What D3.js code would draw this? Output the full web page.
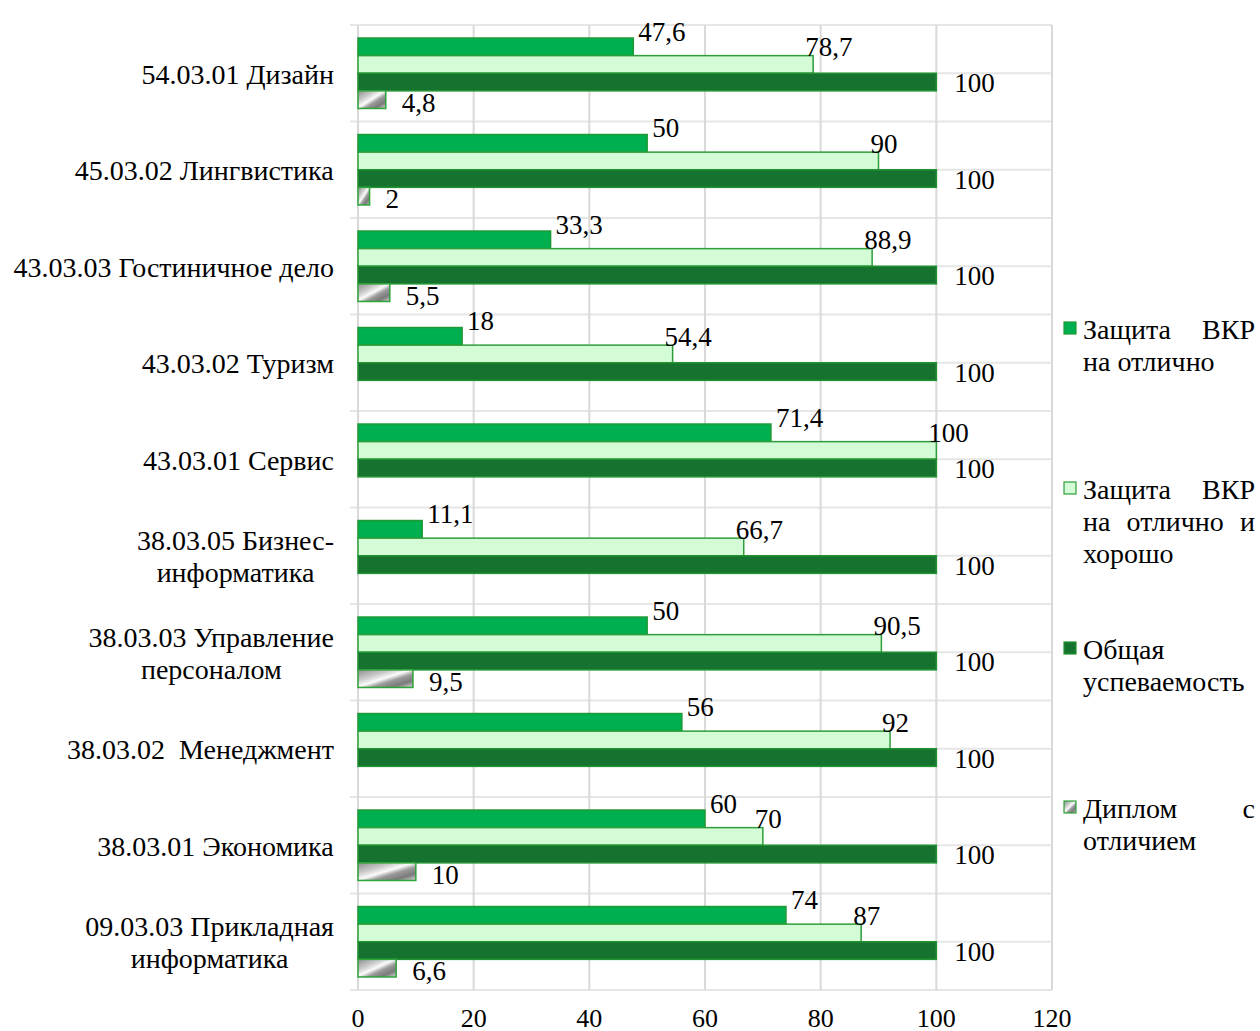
<!DOCTYPE html>
<html><head><meta charset="utf-8">
<script src="https://cdn.jsdelivr.net/npm/d3@7"></script>
<style>
body{margin:0;background:#fff;}
svg text{font-family:"Liberation Serif","DejaVu Serif","Times New Roman",serif;fill:#000;}
</style></head>
<body><svg id="c" width="1260" height="1031" font-family="Liberation Serif, DejaVu Serif, serif"></svg>
<script>
const categories = [
  ["54.03.01 Дизайн"],
  ["45.03.02 Лингвистика"],
  ["43.03.03 Гостиничное дело"],
  ["43.03.02 Туризм"],
  ["43.03.01 Сервис"],
  ["38.03.05 Бизнес-", "информатика"],
  ["38.03.03 Управление", "персоналом"],
  ["38.03.02  Менеджмент"],
  ["38.03.01 Экономика"],
  ["09.03.03 Прикладная", "информатика"]
];
const seriesNames = ["Защита ВКР на отлично", "Защита ВКР на отлично и хорошо", "Общая успеваемость", "Диплом с отличием"];
const excellent = [47.6, 50, 33.3, 18, 71.4, 11.1, 50, 56, 60, 74];
const excellentGood = [78.7, 90, 88.9, 54.4, 100, 66.7, 90.5, 92, 70, 87];
const overall = [100, 100, 100, 100, 100, 100, 100, 100, 100, 100];
const honours = [4.8, 2, 5.5, null, null, null, 9.5, null, 10, 6.6];
const xTicks = [0, 20, 40, 60, 80, 100, 120];
const legendLines = [
  [["Защита", "ВКР"], ["на", "отлично"]],
  [["Защита", "ВКР"], ["на", "отлично", "и"], ["хорошо"]],
  [["Общая"], ["успеваемость"]],
  [["Диплом", "с"], ["отличием"]]
];

const series = [excellent, excellentGood, overall, honours];
const fills = ["#00b050", "#d3fbd6", "#16732f", "url(#silver)"];
const strokes = ["#1e9a35", "#2e9e3a", "#229230", "#2ea33a"];

const svg = d3.select("#c");
const defs = svg.append("defs");
const g1 = defs.append("linearGradient").attr("id", "silver")
  .attr("x1", "0").attr("y1", "0").attr("x2", "1").attr("y2", "1");
[[0, "#8e8e8e"], [0.3, "#c9c9c9"], [0.48, "#fbfbfb"], [0.62, "#9a9a9a"], [0.8, "#7a7a7a"], [1, "#d8d8d8"]]
  .forEach(([o, c]) => g1.append("stop").attr("offset", o).attr("stop-color", c));

const L = 358, R = 1052, T = 25, B = 990;
const x = d3.scaleLinear().domain([0, 120]).range([L, R]);
const y = d3.scaleBand().domain(d3.range(categories.length)).range([T, B])
  .paddingInner(0.27).paddingOuter(0.135);
const ys = d3.scaleBand().domain(d3.range(series.length)).range([0, y.bandwidth()]);
const step = y.step();
const FS = 28, FL = 27, FA = 26;

// horizontal gridlines at category boundaries and centres
const hLines = d3.range(categories.length * 2 + 1).map(i => T + i * step / 2);
svg.append("g").selectAll("line").data(hLines).join("line")
  .attr("x1", (d, i) => i % 2 === 0 ? L - 8 : L).attr("x2", R)
  .attr("y1", d => d).attr("y2", d => d)
  .attr("stroke", "#e6e6e6").attr("stroke-width", 2);
// vertical gridlines
svg.append("g").selectAll("line").data(xTicks).join("line")
  .attr("x1", d => x(d)).attr("x2", d => x(d))
  .attr("y1", T).attr("y2", B)
  .attr("stroke", "#d9d9d9").attr("stroke-width", 2);

// bars
series.forEach((vals, s) => {
  const gg = svg.append("g");
  gg.selectAll("rect").data(vals.map((v, i) => ({v, i})).filter(d => d.v != null)).join("rect")
    .attr("x", x(0))
    .attr("y", d => y(d.i) + ys(s))
    .attr("width", d => x(d.v) - x(0))
    .attr("height", ys.bandwidth())
    .attr("fill", fills[s]).attr("stroke", strokes[s]).attr("stroke-width", 1.5);
});

// data labels
const fmt = v => String(v).replace(".", ",");
const labelRule = [
  {dx: 5, dy: -15},
  {dx: -8, dy: -17},
  {dx: 18, dy: 1},
  {dx: 16, dy: 3}
];
series.forEach((vals, s) => {
  svg.append("g").selectAll("text").data(vals.map((v, i) => ({v, i})).filter(d => d.v != null)).join("text")
    .attr("x", d => x(d.v) + labelRule[s].dx)
    .attr("y", d => y(d.i) + ys(s) + ys.bandwidth() / 2 + labelRule[s].dy)
    .attr("dominant-baseline", "central")
    .attr("text-anchor", "start")
    .attr("font-size", FL)
    .text(d => fmt(d.v));
});

// category labels
const lineH = 32;
categories.forEach((lines, i) => {
  const cy = y(i) + y.bandwidth() / 2;
  const t = svg.append("text").attr("font-size", FS).attr("text-anchor", "middle")
    .attr("xml:space", "preserve").style("white-space", "pre");
  lines.forEach((ln, k) => {
    t.append("tspan").attr("x", 0)
      .attr("y", cy + 1 + (k - (lines.length - 1) / 2) * lineH)
      .attr("dominant-baseline", "central").text(ln);
  });
  const w = t.node().getBBox().width;
  t.selectAll("tspan").attr("x", 334 - w / 2);
});

// x axis labels
svg.append("g").selectAll("text").data(xTicks).join("text")
  .attr("x", d => x(d)).attr("y", 1018).attr("dominant-baseline", "central")
  .attr("text-anchor", "middle").attr("font-size", FA).text(d => d);

// legend
const legTop = [329, 489, 649, 808];
const LX = 1083, LR = 1255;
legendLines.forEach((lines, s) => {
  svg.append("rect").attr("x", 1064).attr("y", legTop[s] - 7).attr("width", 12).attr("height", 12)
    .attr("fill", fills[s]).attr("stroke", strokes[s]).attr("stroke-width", 1.2);
  lines.forEach((words, k) => {
    const yy = legTop[s] + k * lineH;
    const last = k === lines.length - 1;
    const nodes = words.map(w => svg.append("text").attr("font-size", FS)
      .attr("y", yy).attr("dominant-baseline", "central").text(w));
    if (last || words.length === 1) {
      let cx = LX;
      nodes.forEach(n => { n.attr("x", cx); cx += n.node().getComputedTextLength() + FS * 0.25; });
    } else {
      const widths = nodes.map(n => n.node().getComputedTextLength());
      const gap = (LR - LX - d3.sum(widths)) / (words.length - 1);
      let cx = LX;
      nodes.forEach((n, j) => { n.attr("x", cx); cx += widths[j] + gap; });
    }
  });
});
</script></body></html>
